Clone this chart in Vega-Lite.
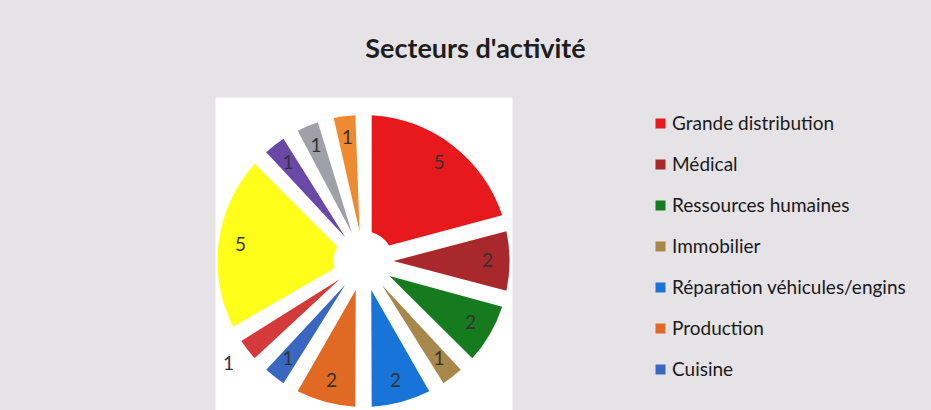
{
  "$schema": "https://vega.github.io/schema/vega-lite/v6.json",
  "autosize": "none",
  "width": 297,
  "height": 328,
  "padding": {"left": 215, "top": 97, "right": 419, "bottom": 0},
  "background": "#e6e3e7",
  "view": {"fill": "#ffffff", "stroke": "transparent"},
  "config": {"font": "Lato"},
  "title": {
    "text": "Secteurs d'activité",
    "font": "Lato",
    "fontSize": 27,
    "fontWeight": "bold",
    "color": "#1e1e1e",
    "anchor": "middle",
    "frame": "group",
    "baseline": "alphabetic",
    "offset": 12,
    "dx": 112
  },
  "data": {
    "values": [
      {"secteur": "Grande distribution", "valeur": 5, "rang": 1},
      {"secteur": "Médical", "valeur": 2, "rang": 2},
      {"secteur": "Ressources humaines", "valeur": 2, "rang": 3},
      {"secteur": "Immobilier", "valeur": 1, "rang": 4},
      {"secteur": "Réparation véhicules/engins", "valeur": 2, "rang": 5},
      {"secteur": "Production", "valeur": 2, "rang": 6},
      {"secteur": "Cuisine", "valeur": 1, "rang": 7},
      {"secteur": "Transport", "valeur": 1, "rang": 8},
      {"secteur": "Services", "valeur": 5, "rang": 9},
      {"secteur": "Informatique", "valeur": 1, "rang": 10},
      {"secteur": "Administration", "valeur": 1, "rang": 11},
      {"secteur": "Autres", "valeur": 1, "rang": 12}
    ]
  },
  "encoding": {
    "theta": {"field": "valeur", "type": "quantitative", "stack": true},
    "order": {"field": "rang", "type": "quantitative"}
  },
  "layer": [
    {
      "mark": {"type": "arc", "radius": 146, "radius2": 30, "padAngle": 0.11},
      "encoding": {
        "color": {
          "field": "secteur",
          "type": "nominal",
          "scale": {
            "domain": ["Grande distribution", "Médical", "Ressources humaines", "Immobilier", "Réparation véhicules/engins", "Production", "Cuisine", "Transport", "Services", "Informatique", "Administration", "Autres"],
            "range": ["#e8191c", "#a8282c", "#167a1e", "#a8874a", "#1874d8", "#e06a24", "#3a68c0", "#d43a3a", "#ffff1a", "#6a48a8", "#a0a0a8", "#f08a30"]
          },
          "legend": {
            "orient": "none",
            "legendX": 436,
            "legendY": 17,
            "title": null,
            "values": ["Grande distribution", "Médical", "Ressources humaines", "Immobilier", "Réparation véhicules/engins", "Production", "Cuisine"],
            "symbolType": "square",
            "symbolSize": 100,
            "symbolStrokeWidth": 0,
            "labelFont": "Lato",
            "labelFontSize": 19,
            "labelColor": "#1a1a1a",
            "labelOffset": 2,
            "rowPadding": 21,
            "padding": 0,
            "labelLimit": 400
          }
        }
      }
    },
    {
      "mark": {"type": "text", "fontSize": 19, "color": "#333333", "font": "Lato"},
      "encoding": {
        "text": {"field": "valeur", "type": "quantitative"},
        "radius": {"value": {"expr": "datum.rang == 8 ? 170 : 124"}}
      }
    }
  ]
}
